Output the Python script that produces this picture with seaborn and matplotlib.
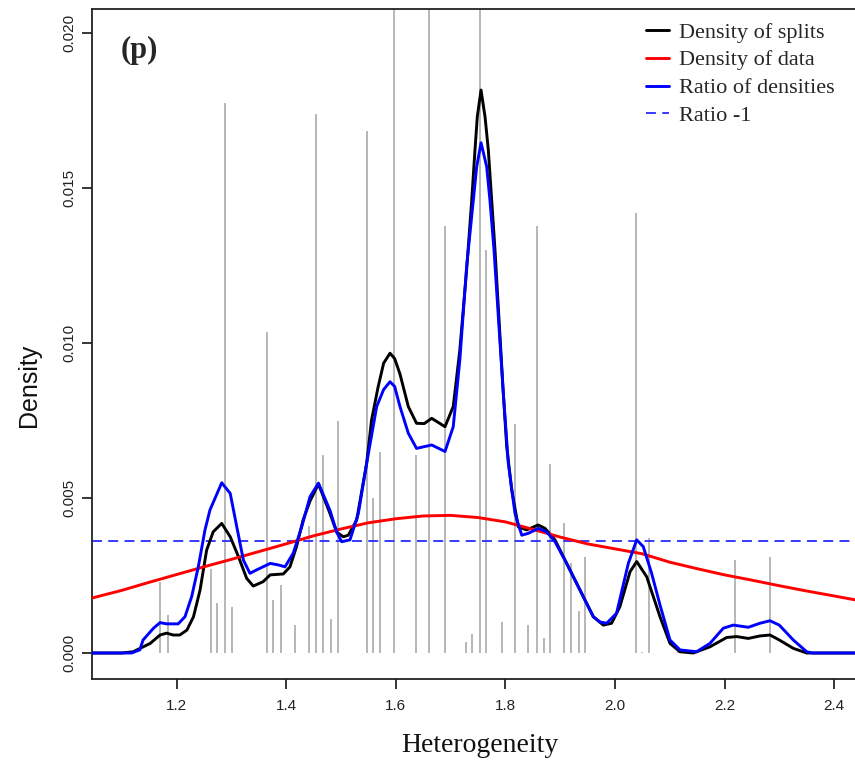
import numpy as np
import pandas as pd
import matplotlib
matplotlib.use("Agg")
import matplotlib.pyplot as plt
import seaborn as sns

# ---------------- data ----------------
# split positions (gray spikes) and their heights
split_x = [1.1704, 1.184, 1.2624, 1.2739, 1.288, 1.3016, 1.3651, 1.377, 1.3907, 1.4157,
           1.4427, 1.4551, 1.4682, 1.4825, 1.4942, 1.5471, 1.5591, 1.5719, 1.5973, 1.6365,
           1.6613, 1.6894, 1.7279, 1.7396, 1.7538, 1.7644, 1.7931, 1.8177, 1.8423, 1.8571,
           1.8703, 1.8819, 1.9071, 1.9208, 1.9341, 1.946, 2.038, 2.0491, 2.0628, 2.1157,
           2.2192, 2.283]
split_h = [0.0023, 0.00123, 0.0027, 0.0016, 0.01774, 0.0015, 0.01037, 0.0017, 0.0022, 0.0009,
           0.0041, 0.01739, 0.0064, 0.0011, 0.0075, 0.01684, 0.005, 0.0065, 0.025, 0.0064,
           0.025, 0.01378, 0.00036, 0.0006, 0.025, 0.013, 0.001, 0.0074, 0.0009, 0.01378,
           0.00047, 0.0061, 0.0042, 0.0029, 0.00135, 0.0031, 0.0142, 0.00003, 0.0037, 0.00005,
           0.003, 0.0031]

# density of splits (black)
splits_x = [1.045, 1.10, 1.121, 1.152, 1.170, 1.182, 1.194, 1.206, 1.219, 1.231, 1.243, 1.255,
            1.267, 1.2825, 1.298, 1.313, 1.328, 1.340, 1.358, 1.371, 1.395, 1.407, 1.419, 1.431,
            1.4436, 1.459, 1.4801, 1.4923, 1.5044, 1.5135, 1.5288, 1.547, 1.556, 1.568, 1.578,
            1.5896, 1.598, 1.6078, 1.623, 1.638, 1.652, 1.6657, 1.69, 1.705, 1.717, 1.7296,
            1.7387, 1.7447, 1.7489, 1.7557, 1.763, 1.769, 1.7752, 1.7812, 1.796, 1.8026, 1.8117,
            1.8237, 1.839, 1.860, 1.8725, 1.8907, 1.912, 1.9363, 1.9606, 1.9788, 1.994, 2.009,
            2.0276, 2.0398, 2.058, 2.0763, 2.0823, 2.1005, 2.1188, 2.143, 2.1735, 2.204, 2.222,
            2.2434, 2.2648, 2.283, 2.300, 2.3255, 2.35, 2.44]
splits_y = [0, 0, 0.00004, 0.00031, 0.00058, 0.00064, 0.00058, 0.00058, 0.00074, 0.00117, 0.00203,
            0.00332, 0.00391, 0.00418, 0.00375, 0.00311, 0.00241, 0.00216, 0.0023, 0.00252,
            0.00255, 0.00278, 0.00343, 0.00429, 0.0049, 0.00545, 0.0045, 0.0039, 0.00375, 0.0038,
            0.00429, 0.00612, 0.00752, 0.00859, 0.00935, 0.00967, 0.0095, 0.0090, 0.00795,
            0.00741, 0.0074, 0.00757, 0.0073, 0.00795, 0.00977, 0.0124, 0.0146, 0.01623, 0.0173,
            0.01816, 0.0173, 0.01623, 0.0146, 0.0130, 0.00848, 0.00665, 0.00526, 0.00407,
            0.00397, 0.00413, 0.00402, 0.00365, 0.00289, 0.00203, 0.00117, 0.0009, 0.00096,
            0.00149, 0.00262, 0.00295, 0.00246, 0.00149, 0.00117, 0.00031, 0.00004, 0, 0.0002,
            0.0005, 0.00053, 0.00047, 0.00055, 0.00058, 0.00042, 0.00015, 0, 0]

# density of data (red)
data_x = [1.045, 1.10, 1.15, 1.20, 1.25, 1.30, 1.35, 1.40, 1.45, 1.50, 1.55, 1.60, 1.65, 1.70,
          1.75, 1.80, 1.85, 1.90, 1.95, 2.00, 2.05, 2.10, 2.15, 2.20, 2.25, 2.30, 2.35, 2.40, 2.44]
data_y = [0.00177, 0.00202, 0.00228, 0.00253, 0.00278, 0.00302, 0.00327, 0.00352, 0.00378,
          0.00400, 0.00420, 0.00433, 0.00442, 0.00444, 0.00437, 0.00423, 0.00399, 0.00374,
          0.00352, 0.00336, 0.00320, 0.00293, 0.00272, 0.00252, 0.00235, 0.00217, 0.00200,
          0.00184, 0.00171]

# ratio of densities (blue)
ratio_x = [1.045, 1.118, 1.121, 1.133, 1.139, 1.158, 1.170, 1.182, 1.203, 1.2155, 1.2277, 1.2398,
           1.252, 1.261, 1.2825, 1.298, 1.310, 1.322, 1.334, 1.346, 1.371, 1.386, 1.398, 1.413,
           1.4285, 1.4436, 1.459, 1.4801, 1.4923, 1.5014, 1.5166, 1.5318, 1.547, 1.5653, 1.578,
           1.5896, 1.598, 1.6078, 1.623, 1.638, 1.6657, 1.69, 1.705, 1.717, 1.7296, 1.7416,
           1.7478, 1.7557, 1.766, 1.772, 1.7794, 1.796, 1.8055, 1.8177, 1.830, 1.842, 1.860,
           1.8755, 1.8907, 1.912, 1.9363, 1.9606, 1.973, 1.985, 2.003, 2.0245, 2.0398, 2.0518,
           2.067, 2.0823, 2.1005, 2.1188, 2.149, 2.1735, 2.1978, 2.216, 2.2434, 2.2648, 2.283,
           2.300, 2.3255, 2.35, 2.36, 2.44]
ratio_y = [0, 0, 0.00002, 0.0001, 0.00042, 0.0008, 0.00098, 0.00094, 0.00094, 0.00117, 0.00182,
           0.00278, 0.00397, 0.00461, 0.00549, 0.00515, 0.00407, 0.0030, 0.00257, 0.00268,
           0.00289, 0.00284, 0.00278, 0.00322, 0.00407, 0.00504, 0.00548, 0.0046, 0.0039,
           0.00359, 0.00365, 0.0045, 0.00612, 0.00795, 0.0085, 0.00875, 0.0086, 0.00795, 0.00709,
           0.0066, 0.00671, 0.0065, 0.0073, 0.00945, 0.0125, 0.0146, 0.01569, 0.01646, 0.01569,
           0.0146, 0.0130, 0.00848, 0.00612, 0.0045, 0.0038, 0.00386, 0.00402, 0.00391, 0.00359,
           0.00289, 0.00203, 0.00117, 0.0010, 0.00096, 0.00128, 0.00289, 0.00365, 0.00343,
           0.00257, 0.00155, 0.00042, 0.0001, 0.00004, 0.00031, 0.0008, 0.0009, 0.00083,
           0.00096, 0.00104, 0.0009, 0.00042, 0.00004, 0, 0]

ratio_minus_one = 0.00362

x_ticks = [1.2, 1.4, 1.6, 1.8, 2.0, 2.2, 2.4]
x_tick_labels = ["1.2", "1.4", "1.6", "1.8", "2.0", "2.2", "2.4"]
y_ticks = [0.000, 0.005, 0.010, 0.015, 0.020]
y_tick_labels = ["0.000", "0.005", "0.010", "0.015", "0.020"]

legend_labels = ["Density of splits", "Density of data", "Ratio of densities", "Ratio -1"]
panel_label = "(p)"
x_title = "Heterogeneity"
y_title = "Density"

# ---------------- plot ----------------
sns.set_style("ticks")
plt.rcParams["font.family"] = ["Liberation Sans", "DejaVu Sans"]
serif = ["Liberation Serif", "DejaVu Serif"]

W, H = 855, 771
fig = plt.figure(figsize=(W / 100, H / 100), dpi=100)
ax = fig.add_axes([92 / W, 92 / H, 1 - 92 / W, 670 / H])

ax.vlines(split_x, 0, split_h, color="#aaaaaa", lw=1.2, zorder=1)

sns.lineplot(x=splits_x, y=splits_y, ax=ax, color="black", lw=2.1, estimator=None,
             sort=False, label=legend_labels[0], zorder=3)
sns.lineplot(x=data_x, y=data_y, ax=ax, color="#ff0000", lw=2.1, estimator=None,
             sort=False, label=legend_labels[1], zorder=3)
sns.lineplot(x=ratio_x, y=ratio_y, ax=ax, color="#0000ff", lw=2.1, estimator=None,
             sort=False, label=legend_labels[2], zorder=4)
ax.axhline(ratio_minus_one, color="#2a2aff", lw=1.3, linestyle=(0, (5.5, 3.5)),
           label=legend_labels[3], zorder=2)

ax.set_xlim(1.2 - (176.5 - 92) / 548, 1.2 + (855 - 176.5) / 548)
ax.set_ylim((653 - 679) / 31000, (653 - 9) / 31000)

ax.set_xticks(x_ticks)
ax.set_xticklabels(x_tick_labels)
ax.set_yticks(y_ticks)
ax.set_yticklabels(y_tick_labels, rotation=90, va="center")
ax.tick_params(axis="both", direction="out", length=7.5, width=1.1, color="black",
               labelsize=11, labelcolor="#222222")
ax.tick_params(axis="x", pad=7)
ax.tick_params(axis="y", pad=4)

for side in ["left", "bottom", "top"]:
    ax.spines[side].set_visible(True)
    ax.spines[side].set_linewidth(1.3)
    ax.spines[side].set_color("#222222")
ax.spines["right"].set_visible(False)

ax.set_xlabel(x_title, family=serif, fontsize=20, color="#111111")
ax.xaxis.set_label_coords(480 / W, -(745 - 92 * 0 - 0) / H, transform=fig.transFigure)
ax.xaxis.label.set_position((480 / W, 0))
ax.set_ylabel(y_title, fontsize=18, color="#111111")

# place axis titles in figure pixel positions
ax.xaxis.set_label_coords(480 / W, 1 - 745 / H, transform=fig.transFigure)
ax.xaxis.label.set_va("center")
ax.yaxis.set_label_coords(29 / W, 1 - 385 / H, transform=fig.transFigure)
ax.yaxis.label.set_va("center")

ax.text(121 / W, 1 - 50 / H, panel_label, transform=fig.transFigure, family=serif,
        fontweight="bold", fontsize=22, va="center", ha="left")

leg = ax.legend(loc="upper left", bbox_to_anchor=(646 / W, 1 - 22 / H),
                bbox_transform=fig.transFigure, frameon=False, prop={"family": serif, "size": 16},
                handlelength=1.05, handletextpad=0.45, labelspacing=0.33, borderpad=0,
                borderaxespad=0)

fig.savefig("out.png", dpi=100)
